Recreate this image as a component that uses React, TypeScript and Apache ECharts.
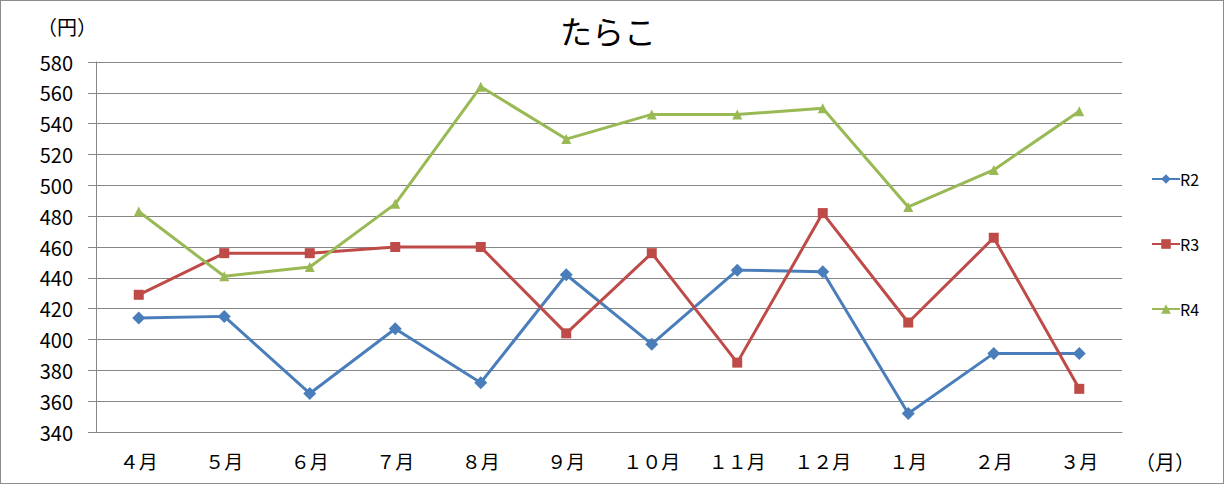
import React, { useEffect, useRef } from 'react';
import * as echarts from 'echarts';

const months = ['４月', '５月', '６月', '７月', '８月', '９月', '１０月', '１１月', '１２月', '１月', '２月', '３月'];
const r2 = [414, 415, 365, 407, 372, 442, 397, 445, 444, 352, 391, 391];
const r3 = [429, 456, 456, 460, 460, 404, 456, 385, 482, 411, 466, 368];
const r4 = [483, 441, 447, 488, 564, 530, 546, 546, 550, 486, 510, 548];

const FONT = '"Noto Sans CJK JP", "Noto Sans", sans-serif';
const GRID_COLOR = '#868686';

const App: React.FC = () => {
  const chartRef = useRef<HTMLDivElement>(null);

  useEffect(() => {
    document.body.style.margin = '0';
    if (!chartRef.current) return;
    const chart = echarts.init(chartRef.current, undefined, { renderer: 'svg' });

    const lineSeries = (name: string, data: number[], color: string, symbol: string, size: number) => ({
      name,
      type: 'line' as const,
      data,
      symbol,
      symbolSize: size,
      itemStyle: { color },
      lineStyle: { color, width: 3 },
    });

    const option: echarts.EChartsOption = {
      animation: false,
      backgroundColor: '#fff',
      textStyle: { fontFamily: FONT },
      title: {
        text: 'たらこ',
        left: 554,
        top: 8,
        textStyle: { fontSize: 32, fontWeight: 'normal', color: '#000', fontFamily: FONT },
      },
      grid: { left: 95, right: 101, top: 61, bottom: 51 },
      legend: {
        orient: 'vertical',
        left: 1145,
        top: 165,
        itemGap: 49,
        itemWidth: 28,
        itemHeight: 12,
        textStyle: { fontSize: 16, color: '#000', fontFamily: FONT, padding: [0, 0, 0, -5] },
        data: ['R2', 'R3', 'R4'],
      },
      xAxis: {
        type: 'category',
        data: months,
        boundaryGap: true,
        axisLine: { lineStyle: { color: GRID_COLOR, width: 1 } },
        axisTick: { length: 8, lineStyle: { color: GRID_COLOR } },
        axisLabel: { fontSize: 19, color: '#000', margin: 19, fontFamily: FONT },
      },
      yAxis: {
        type: 'value',
        min: 340,
        max: 580,
        interval: 20,
        axisLine: { show: true, lineStyle: { color: GRID_COLOR, width: 1 } },
        axisTick: { show: true, length: 8, lineStyle: { color: GRID_COLOR } },
        axisLabel: { fontSize: 20, color: '#000', margin: 23, fontFamily: FONT },
        splitLine: { lineStyle: { color: GRID_COLOR, width: 1 } },
      },
      graphic: [
        {
          type: 'text',
          left: 36,
          top: 15,
          style: { text: '（円）', fontSize: 20, fill: '#000', fontFamily: FONT },
        },
        {
          type: 'text',
          left: 1134,
          top: 450,
          style: { text: '（月）', fontSize: 20, fill: '#000', fontFamily: FONT },
        },
      ],
      series: [
        lineSeries('R2', r2, '#4A7EBB', 'diamond', 13),
        lineSeries('R3', r3, '#BE4B48', 'rect', 10),
        lineSeries('R4', r4, '#98B954', 'triangle', 10),
      ],
    };

    chart.setOption(option);
    return () => {
      chart.dispose();
    };
  }, []);

  return (
    <div style={{ width: 1224, height: 484, border: '1px solid #8c8c8c', boxSizing: 'border-box', overflow: 'hidden' }}>
      <div ref={chartRef} style={{ width: 1222, height: 482 }} />
    </div>
  );
};

export default App;
